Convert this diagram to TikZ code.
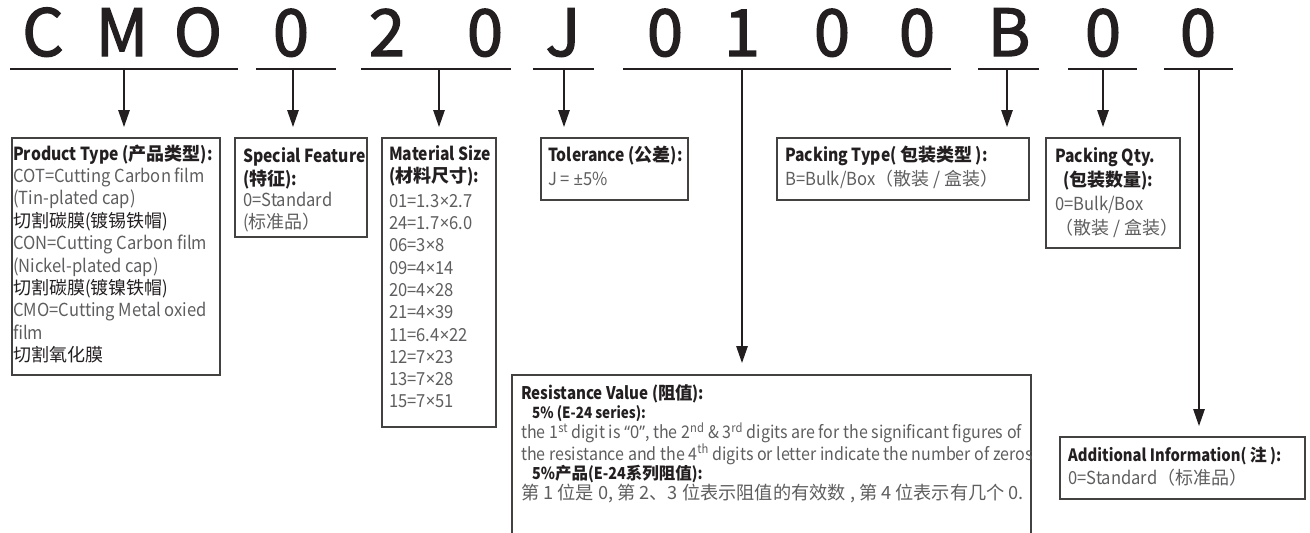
\documentclass[tikz,border=0pt]{standalone}
\usepackage{fontspec}
\setmainfont{Noto Sans CJK SC}[FakeStretch=0.92]
\newfontfamily\boldf{Noto Sans CJK SC}[FakeStretch=0.87]
\newfontfamily\zhr{Noto Sans CJK SC}
\newfontfamily\bigfont{Noto Sans CJK SC}[FakeBold=2]
\newfontfamily\lat{Noto Sans}[FakeStretch=0.92]
\usetikzlibrary{arrows.meta}
\definecolor{ink}{HTML}{231F20}
\definecolor{bodygray}{HTML}{5E5E60}
\tikzset{
  big/.style={font=\bigfont\fontsize{65}{65}\selectfont, text=ink, anchor=base, inner sep=0},
  uline/.style={draw=ink, line width=1.6pt},
  arr/.style={draw=ink, line width=1.3pt, -{Triangle[length=17pt,width=11.5pt]}},
  boxed/.style={draw=ink!85, line width=1.2pt, rectangle, anchor=north west, inner sep=0, outer sep=0},
  txt/.style={anchor=north west, inner sep=0, align=left, text=bodygray},
}
\newcommand{\ttl}[1]{\textcolor{ink}{\boldf\bfseries #1}}
\newcommand{\dk}[1]{\textcolor{ink}{#1}}
\newcommand{\zh}[1]{{\zhr #1}}
\newcommand{\zb}[1]{{\zhr\bfseries #1}}
\begin{document}
\begin{tikzpicture}[x=1pt,y=-1pt]
\useasboundingbox (0,0) rectangle (1310,533);
% big code letters
\foreach \n/\x/\c in {1/43/C,2/122/M,3/198/O,4/291/0,5/387/2,6/485/0,7/563/J,8/665/0,9/742/1,10/832/0,11/917/0,12/1009/B,13/1103/0,14/1198/0}
  \node[big] (l\n) at (\x,56) {\c};
% underlines
\draw[uline] (10,69) -- (238,69);
\draw[uline] (256,69) -- (336,69);
\draw[uline] (361,69) -- (511,69);
\draw[uline] (533,69) -- (594,69);
\draw[uline] (623,69) -- (951,69);
\draw[uline] (978,69) -- (1039,69);
\draw[uline] (1068,69) -- (1137,69);
\draw[uline] (1164,69) -- (1233,69);
% boxes
\node[boxed, minimum width=208pt, minimum height=237pt] (pt) at (12,138) {};
\node[boxed, minimum width=132pt, minimum height=99pt] (sf) at (235,138) {};
\node[boxed, minimum width=114pt, minimum height=289pt] (ms) at (382,138) {};
\node[boxed, minimum width=147pt, minimum height=62pt] (tol) at (541,138) {};
\node[boxed, minimum width=252pt, minimum height=62pt] (pkt) at (777,138) {};
\node[boxed, minimum width=134pt, minimum height=110pt] (pkq) at (1046,138) {};
\node[boxed, minimum width=519pt, minimum height=180pt] (res) at (512,375) {};
\node[boxed, minimum width=245pt, minimum height=62pt] (add) at (1060,437) {};
% connector start points
\coordinate (a1) at (124,69);
\coordinate (a2) at (293,69);
\coordinate (a3) at (439,69);
\coordinate (a4) at (564,69);
\coordinate (a5) at (742,69);
\coordinate (a6) at (1007,69);
\coordinate (a7) at (1103,69);
\coordinate (a8) at (1199,69);
\draw[arr, shorten >=11pt] (a1) -- (a1 |- pt.north);
\draw[arr, shorten >=11pt] (a2) -- (a2 |- sf.north);
\draw[arr, shorten >=11pt] (a3) -- (a3 |- ms.north);
\draw[arr, shorten >=11pt] (a4) -- (a4 |- tol.north);
\draw[arr, shorten >=12pt] (a5) -- (a5 |- res.north);
\draw[arr, shorten >=11pt] (a6) -- (a6 |- pkt.north);
\draw[arr, shorten >=11pt] (a7) -- (a7 |- pkq.north);
\draw[arr, shorten >=11pt] (a8) -- (a8 |- add.north);
% texts
\node[txt, font=\fontsize{18}{22.4}\selectfont] (ptt) at (13,144.3) {\strut\ttl{Product Type (\zb{产品类型}):}\\
COT=Cutting Carbon film\\
(Tin-plated cap)\\
\dk{\zh{切割碳膜}(\zh{镀锡铁帽})}\\
CON=Cutting Carbon film\\
(Nickel-plated cap)\\
\dk{\zh{切割碳膜}(\zh{镀镍铁帽})}\\
CMO=Cutting Metal oxied\\
film\\
\dk{\zh{切割氧化膜}}};
\node[txt, font=\fontsize{18}{21.5}\selectfont] (sft) at (243,147) {\strut\ttl{Special Feature}\\
\ttl{(\zb{特征}):}\\
0=Standard\\
(\zh{标准品）}};
\node[txt, font=\fontsize{18}{22.3}\selectfont] (mst) at (389,144.4) {\strut\ttl{Material Size}\\
\ttl{(\zb{材料尺寸}):}\\[2.4pt]
01=1.3{\lat ×}2.7\\
24=1.7{\lat ×}6.0\\
06=3{\lat ×}8\\
09=4{\lat ×}14\\
20=4{\lat ×}28\\
21=4{\lat ×}39\\
11=6.4{\lat ×}22\\
12=7{\lat ×}23\\
13=7{\lat ×}28\\
15=7{\lat ×}51};
\node[txt, font=\fontsize{18}{24}\selectfont] (tolt) at (548,144.2) {\strut\ttl{Tolerance (\zb{公差}):}\\
J = {\lat ±}5\%};
\node[txt, font=\fontsize{18}{24}\selectfont] (pktt) at (785,144.2) {\strut\ttl{Packing Type( \zb{包装类型} ):}\\
B=Bulk/Box\zh{（散装 / 盒装）}};
\node[txt, font=\fontsize{18}{24}\selectfont] (pkqt) at (1055,145.2) {\strut\ttl{Packing Qty.}\\
\hspace*{8pt}\ttl{(\zb{包装数量}):}\\
0=Bulk/Box\\
\zh{（散装 / 盒装）}};
\node[txt, font=\fontsize{17.4}{18.4}\selectfont] (rest) at (521,384.1) {\strut\ttl{Resistance Value (\zb{阻值}):}\\
\hspace*{11pt}\ttl{\fontsize{15.5}{18.4}\selectfont 5\% (E-24 series):}\\
the 1\textsuperscript{st} digit is {\lat “0”}, the 2\textsuperscript{nd} \& 3\textsuperscript{rd} digits are for the significant figures of\\
the resistance and the 4\textsuperscript{th} digits or letter indicate the number of zeros\\
\hspace*{11pt}\ttl{\fontsize{16.5}{18.4}\selectfont 5\%\zb{产品}(E-24\zb{系列阻值}):}\\
{\zhr\fontsize{18.2}{18.4}\selectfont 第 1 位是 0, 第 2、3 位表示阻值的有效数 , 第 4 位表示有几个 0.}};
\node[txt, font=\fontsize{18}{23}\selectfont] (addt) at (1068,444.9) {\strut\ttl{\fontsize{17}{23}\selectfont Additional Information( \zb{注} ):}\\
0=Standard\zh{（标准品）}};
\end{tikzpicture}
\end{document}
